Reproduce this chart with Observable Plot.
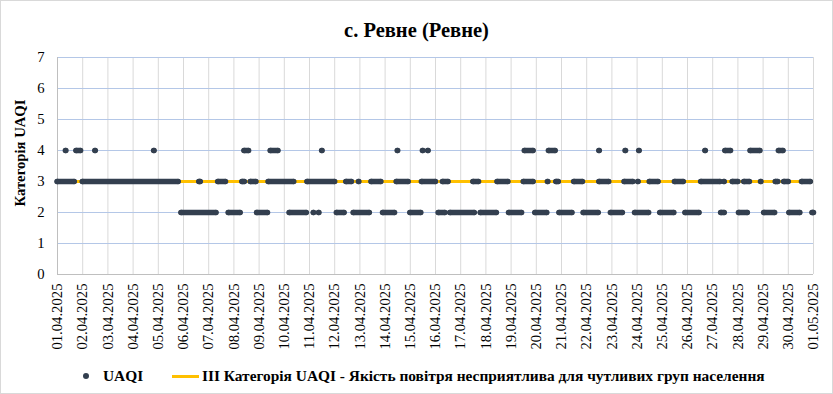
<!DOCTYPE html>
<html><head><meta charset="utf-8">
<script src="https://cdn.jsdelivr.net/npm/d3@7"></script>
<script src="https://cdn.jsdelivr.net/npm/@observablehq/plot@0.6"></script>
<style>
body{margin:0;background:#fff;}
#wrap{position:relative;width:833px;height:394px;font-family:"Liberation Serif","Times New Roman",serif;overflow:hidden;background:#fff}
#frame{position:absolute;left:0;top:0;width:833px;height:394px;box-sizing:border-box;border:1px solid #d9d9d9;pointer-events:none}
#chart{position:absolute;left:0;top:0}
#title{position:absolute;left:0;top:18px;width:833px;text-align:center;font-weight:bold;font-size:20.5px;line-height:24px}
#ylabel{position:absolute;left:20px;top:153px;transform:translate(-50%,-50%) rotate(-90deg);font-weight:bold;font-size:14.7px;white-space:nowrap}
.lg{position:absolute;font-weight:bold;font-size:15.4px;line-height:20px;top:366px;white-space:nowrap}
#lgdot{position:absolute;left:83px;top:373px;width:6px;height:6px;border-radius:50%;background:#333f4f}
#lgline{position:absolute;left:172px;top:375px;width:27px;height:3px;background:#ffc000}
</style></head><body>
<div id="wrap">
  <div id="chart"></div>
  <div id="title">с. Ревне (Ревне)</div>
  <div id="ylabel">Категорія UAQI</div>
  <div id="lgdot"></div><div class="lg" style="left:103px">UAQI</div>
  <div id="lgline"></div><div class="lg" style="left:202px">ІІІ Категорія UAQI - Якість повітря несприятлива для чутливих груп населення</div>
  <div id="frame"></div>
</div>
<script>
const dateLabels = ["01.04.2025","02.04.2025","03.04.2025","04.04.2025","05.04.2025","06.04.2025","07.04.2025","08.04.2025","09.04.2025","10.04.2025","11.04.2025","12.04.2025","13.04.2025","14.04.2025","15.04.2025","16.04.2025","17.04.2025","18.04.2025","19.04.2025","20.04.2025","21.04.2025","22.04.2025","23.04.2025","24.04.2025","25.04.2025","26.04.2025","27.04.2025","28.04.2025","29.04.2025","30.04.2025","01.05.2025"];
const yTicks = [0,1,2,3,4,5,6,7];
const thresholdLevel = 3;
// observed runs of hourly UAQI readings: [first hour, last hour] since 01.04.2025 00:00
const runsCat2 = [[118,151],[163,174],[190,200],[221,237],[244,244],[249,249],[266,273],[282,297],[310,321],[336,346],[363,369],[374,397],[403,418],[430,442],[455,466],[478,490],[501,515],[527,538],[550,563],[574,587],[598,611],[632,635],[649,657],[673,683],[697,707],[719,720]];
const runsCat3 = [[0,16],[24,115],[135,136],[153,160],[176,178],[184,189],[201,225],[238,264],[275,280],[287,287],[299,308],[323,334],[347,360],[367,372],[396,401],[419,429],[444,453],[467,467],[475,477],[492,500],[516,525],[540,548],[553,553],[564,572],[588,596],[613,631],[635,635],[643,648],[654,659],[670,670],[684,686],[692,696],[709,717]];
const runsCat4 = [[8,8],[18,22],[36,36],[92,92],[178,182],[203,210],[252,252],[324,324],[348,348],[353,353],[445,453],[468,474],[516,516],[541,541],[554,554],[617,617],[636,641],[660,669],[687,691]];

const runs = [[2,runsCat2],[3,runsCat3],[4,runsCat4]].flatMap(([v, rs]) => rs.map(([a,b]) => ({v,a,b})));
const ends = runs.flatMap(r => r.a === r.b ? [{v:r.v,h:r.a}] : [{v:r.v,h:r.a},{v:r.v,h:r.b}]);
const dayTicks = dateLabels.map((_, i) => i*24);
const ink = "#333f4f";

const chart = Plot.plot({
  width:833, height:360, marginLeft:57, marginRight:20, marginTop:57, marginBottom:86,
  x:{domain:[0,720], label:null},
  y:{domain:[0,7], label:null},
  style:{fontFamily:"'Liberation Serif', 'Times New Roman', serif", fontSize:"14.7px", color:"#000", background:"transparent"},
  marks:[
    Plot.ruleX(dayTicks, {stroke:"#d9d9d9", strokeWidth:1}),
    Plot.ruleY(yTicks.filter(d => d > 0), {stroke:"#b4c7e7", strokeWidth:1}),
    Plot.ruleY([0], {stroke:"#bfbfbf"}),
    Plot.ruleX([0], {stroke:"#bfbfbf"}),
    Plot.ruleY([thresholdLevel], {stroke:"#ffc000", strokeWidth:3}),
    Plot.ruleY(runs, {y:"v", x1:"a", x2:"b", stroke:ink, strokeWidth:5.5, strokeLinecap:"round"}),
    Plot.dot(ends, {x:"h", y:"v", r:2.75, fill:ink}),
    Plot.axisX({ticks:dayTicks, tickFormat:d => dateLabels[Math.round(d/24)], tickRotate:-90, tickSize:0, tickPadding:9, fill:"#000"}),
    Plot.axisY({ticks:yTicks, tickFormat:d => String(d), tickSize:0, tickPadding:13, label:null, fill:"#000"})
  ]
});
document.getElementById("chart").appendChild(chart);
</script>
</body></html>
